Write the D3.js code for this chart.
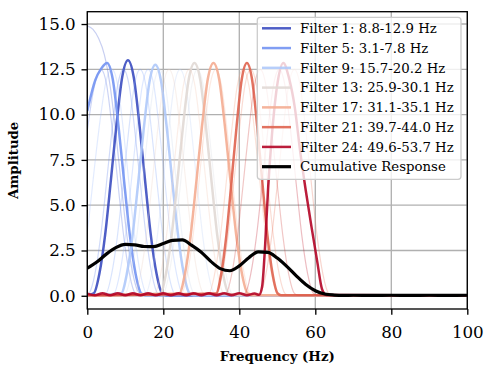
<!DOCTYPE html>
<html><head><meta charset="utf-8">
<script src="https://cdn.jsdelivr.net/npm/d3@7"></script>
<style>body{margin:0;background:#fff} svg{display:block}</style>
</head><body><svg id="c" width="484" height="365"></svg>
<script>
// ---- Data ----
const xTicks = [0, 20, 40, 60, 80, 100];
const yTicks = [0, 2.5, 5, 7.5, 10, 12.5, 15];

// highlighted filters: [freq, amplitude] points
const filter1 = [[0,0.03],[1.7,0.13],[3.2,1.24],[4.7,3.38],[6.2,6.37],[7.7,9.49],[9.2,12.09],[10.7,13.0],[12.2,12.09],[13.7,9.49],[15.2,6.37],[16.7,3.38],[18.2,1.24],[19.7,0.13],[20.7,0.03],[100,0.03]];
const filter5 = [[0,10.2],[2.1,11.9],[3.7,12.55],[5.2,12.85],[6.7,11.95],[8.2,9.38],[9.7,6.3],[11.2,3.34],[12.7,1.22],[14.2,0.13],[15.2,0.03],[100,0.03]];
const filter9 = [[0,0.03],[8.9,0.13],[10.4,1.21],[11.9,3.32],[13.4,6.25],[14.9,9.31],[16.4,11.86],[17.9,12.75],[19.4,11.86],[20.9,9.31],[22.4,6.25],[23.9,3.32],[25.4,1.21],[26.9,0.13],[27.9,0.03],[100,0.03]];
const filter13 = [[0,0.03],[19.2,0.13],[20.7,1.22],[22.2,3.34],[23.7,6.3],[25.2,9.38],[26.7,11.95],[28.2,12.85],[29.7,11.95],[31.2,9.38],[32.7,6.3],[34.2,3.34],[35.7,1.22],[37.2,0.13],[38.2,0.03],[100,0.03]];
const filter17 = [[0,0.03],[24.2,0.13],[25.7,1.22],[27.2,3.34],[28.7,6.3],[30.2,9.38],[31.7,11.95],[33.2,12.85],[34.7,11.95],[36.2,9.38],[37.7,6.3],[39.2,3.34],[40.7,1.22],[42.2,0.13],[43.2,0.03],[100,0.03]];
const filter21 = [[0,0.03],[33.9,0.13],[35.25,1.22],[36.6,3.34],[37.95,6.3],[39.3,9.38],[40.65,11.95],[42.0,12.85],[43.35,11.95],[44.7,9.38],[46.05,6.3],[47.4,3.34],[48.75,1.22],[50.1,0.13],[51.0,0.03],[100,0.03]];
const filter24 = [[0,0.12],[2,0.03],[4,0.14],[6,0.03],[8,0.14],[10,0.03],[12,0.14],[14,0.03],[16,0.14],[18,0.03],[20,0.14],[22,0.03],[24,0.14],[26,0.03],[28,0.14],[30,0.03],[32,0.14],[34,0.03],[36,0.14],[38,0.03],[40,0.14],[42,0.03],[44,0.12],[45.2,0.05],[46.0,0.5],[46.8,2.8],[47.6,6.0],[48.6,8.9],[50.1,11.8],[51.6,12.85],[53.1,12.0],[54.6,10.4],[56.0,8.0],[57.5,5.8],[59.0,3.8],[60.5,1.9],[61.8,0.35],[63,0.04],[100,0.03]];

// faint (unlabelled) filters
const filter2 = [[0,14.9],[1.5,14.7],[3,14.2],[4.5,13.3],[6,11.6],[7.5,9.0],[9,6.0],[10.5,3.2],[12,1.2],[13.5,0.2],[15,0.03],[100,0.03]];
const filter3 = [[0,9.1],[1.5,11.2],[3.6,12.5],[5.1,11.63],[6.6,9.13],[8.1,6.13],[9.6,3.25],[11.1,1.19],[12.6,0.13],[13.6,0.03],[100,0.03]];
const filter4 = [[0,0.03],[0.5,0.13],[2,1.19],[3.5,3.25],[5,6.13],[6.5,9.13],[8,11.63],[9.5,12.5],[11,11.63],[12.5,9.13],[14,6.13],[15.5,3.25],[17,1.19],[18.5,0.13],[19.5,0.03],[100,0.03]];
const filter6 = [[0,0.03],[4.9,0.13],[6.4,1.19],[7.9,3.25],[9.4,6.13],[10.9,9.13],[12.4,11.63],[13.9,12.5],[15.4,11.63],[16.9,9.13],[18.4,6.13],[19.9,3.25],[21.4,1.19],[22.9,0.13],[23.9,0.03],[100,0.03]];
const filter7 = [[0,0.03],[7.0,0.13],[8.5,1.19],[10.0,3.25],[11.5,6.13],[13.0,9.13],[14.5,11.63],[16.0,12.5],[17.5,11.63],[19.0,9.13],[20.5,6.13],[22.0,3.25],[23.5,1.19],[25.0,0.13],[26.0,0.03],[100,0.03]];
const filter8 = [[0,3.5],[0.5,4.4],[2.0,7.3],[3.5,9.9],[5.0,11.9],[6.5,12.5],[8.0,11.63],[9.5,9.13],[11.0,6.13],[12.5,3.25],[14.0,1.19],[15.5,0.13],[16.5,0.03],[100,0.03]];
const filter10 = [[0,0.03],[15.4,0.13],[16.9,1.19],[18.4,3.25],[19.9,6.13],[21.4,9.13],[22.9,11.63],[24.4,12.5],[25.9,11.63],[27.4,9.13],[28.9,6.13],[30.4,3.25],[31.9,1.19],[33.4,0.13],[34.4,0.03],[100,0.03]];
const filter11 = [[0,0.03],[10.0,0.13],[11.5,1.19],[13.0,3.25],[14.5,6.13],[16.0,9.13],[17.5,11.63],[19.0,12.5],[20.5,11.63],[22.0,9.13],[23.5,6.13],[25.0,3.25],[26.5,1.19],[28.0,0.13],[29.0,0.03],[100,0.03]];
const filter12 = [[0,0.03],[20.0,0.13],[21.5,1.19],[23.0,3.25],[24.5,6.13],[26.0,9.13],[27.5,11.63],[29.0,12.5],[30.5,11.63],[32.0,9.13],[33.5,6.13],[35.0,3.25],[36.5,1.19],[38.0,0.13],[39.0,0.03],[100,0.03]];
const filter14 = [[0,0.03],[12.5,0.13],[14.0,1.19],[15.5,3.25],[17.0,6.13],[18.5,9.13],[20.0,11.63],[21.5,12.5],[23.0,11.63],[24.5,9.13],[26.0,6.13],[27.5,3.25],[29.0,1.19],[30.5,0.13],[31.5,0.03],[100,0.03]];
const filter15 = [[0,0.03],[17.8,0.13],[19.3,1.19],[20.8,3.25],[22.3,6.13],[23.8,9.13],[25.3,11.63],[26.8,12.5],[28.3,11.63],[29.8,9.13],[31.3,6.13],[32.8,3.25],[34.3,1.19],[35.8,0.13],[36.8,0.03],[100,0.03]];
const filter16 = [[0,0.03],[24.8,0.13],[26.3,1.19],[27.8,3.25],[29.3,6.13],[30.8,9.13],[32.3,11.63],[33.8,12.5],[35.3,11.63],[36.8,9.13],[38.3,6.13],[39.8,3.25],[41.3,1.19],[42.8,0.13],[43.8,0.03],[100,0.03]];
const filter18 = [[0,0.03],[32.0,0.13],[33.5,1.19],[35.0,3.25],[36.5,6.13],[38.0,9.13],[39.5,11.63],[41.0,12.5],[42.5,11.63],[44.0,9.13],[45.5,6.13],[47.0,3.25],[48.5,1.19],[50.0,0.13],[51.0,0.03],[100,0.03]];
const filter19 = [[0,0.03],[34.0,0.13],[35.5,1.19],[37.0,3.25],[38.5,6.13],[40.0,9.13],[41.5,11.63],[43.0,12.5],[44.5,11.63],[46.0,9.13],[47.5,6.13],[49.0,3.25],[50.5,1.19],[52.0,0.13],[53.0,0.03],[100,0.03]];
const filter20 = [[0,0.03],[45.5,0.13],[47.0,1.19],[48.5,3.25],[50.0,6.13],[51.5,9.13],[53.0,11.63],[54.5,12.5],[56.0,11.63],[57.5,9.13],[59.0,6.13],[60.5,3.25],[62.0,1.19],[63.5,0.13],[64.5,0.03],[100,0.03]];
const filter22 = [[0,0.03],[36.5,0.13],[38.0,1.19],[39.5,3.25],[41.0,6.13],[42.5,9.13],[44.0,11.63],[45.5,12.5],[47.0,11.63],[48.5,9.13],[50.0,6.13],[51.5,3.25],[53.0,1.19],[54.5,0.13],[55.5,0.03],[100,0.03]];
const filter23 = [[0,0.03],[41.5,0.13],[43.0,1.19],[44.5,3.25],[46.0,6.13],[47.5,9.13],[49.0,11.63],[50.5,12.5],[52.0,11.63],[53.5,9.13],[55.0,6.13],[56.5,3.25],[58.0,1.19],[59.5,0.13],[60.5,0.03],[100,0.03]];

const cumFreq = [0,2.5,5,7.5,10,12.5,15,17.5,20,22.5,25,27.5,30,32.5,35,37.5,40,42.5,45,47.5,50,52.5,55,57.5,60,62.5,65,67.5,70,75,80,85,90,95,100];
const cumAmp  = [1.52,1.86,2.3,2.66,2.84,2.81,2.72,2.71,2.88,3.06,3.08,2.78,2.4,1.9,1.5,1.38,1.65,2.1,2.42,2.4,2.08,1.62,1.1,0.62,0.28,0.1,0.04,0.02,0.03,0.02,0.03,0.02,0.03,0.02,0.03];

const filterNums = [1,2,3,4,5,6,7,8,9,10,11,12,13,14,15,16,17,18,19,20,21,22,23,24];
const filterData = {1:filter1,2:filter2,3:filter3,4:filter4,5:filter5,6:filter6,7:filter7,8:filter8,9:filter9,10:filter10,11:filter11,12:filter12,13:filter13,14:filter14,15:filter15,16:filter16,17:filter17,18:filter18,19:filter19,20:filter20,21:filter21,22:filter22,23:filter23,24:filter24};
const highlighted = [1,5,9,13,17,21,24];
const legendLabels = ["Filter 1: 8.8-12.9 Hz","Filter 5: 3.1-7.8 Hz","Filter 9: 15.7-20.2 Hz","Filter 13: 25.9-30.1 Hz","Filter 17: 31.1-35.1 Hz","Filter 21: 39.7-44.0 Hz","Filter 24: 49.6-53.7 Hz","Cumulative Response"];

// coolwarm colormap stops
const coolwarm = ["#3b4cc0","#6282ea","#8db0fe","#b8d0f9","#dddddd","#f5c4ad","#f49a7b","#de604d","#b40426"];
const cmap = d3.piecewise(d3.interpolateRgb, coolwarm);
const colorOf = n => cmap((n-1)/23);

// ---- Layout ----
const FONT = "'DejaVu Serif', serif";
const svg = d3.select("#c");
const L = 87.3, R = 467.3, T = 11.7, B = 309;
const x = d3.scaleLinear().domain([0,100]).range([L,R]);
const y = d3.scaleLinear().domain([-0.73,15.68]).range([B,T]);

svg.append("defs").append("clipPath").attr("id","clip")
  .append("rect").attr("x",L).attr("y",T).attr("width",R-L).attr("height",B-T);

// grid
const grid = svg.append("g");
grid.selectAll(".gx").data(xTicks).enter().append("line")
  .attr("x1",d=>x(d)).attr("x2",d=>x(d)).attr("y1",T).attr("y2",B)
  .attr("stroke","#b0b0b0").attr("stroke-width",1.33);
grid.selectAll(".gy").data(yTicks).enter().append("line")
  .attr("y1",d=>y(d)).attr("y2",d=>y(d)).attr("x1",L).attr("x2",R)
  .attr("stroke","#b0b0b0").attr("stroke-width",1.33);

const line = d3.line().x(d=>x(d[0])).y(d=>y(d[1])).curve(d3.curveMonotoneX);
const plot = svg.append("g").attr("clip-path","url(#clip)");

filterNums.forEach(n => {
  const hi = highlighted.includes(n);
  plot.append("path").datum(filterData[n]).attr("d",line)
    .attr("fill","none").attr("stroke",colorOf(n))
    .attr("stroke-width", hi ? 2.5 : 1.2)
    .attr("stroke-opacity", hi ? 0.9 : 0.3)
    .attr("stroke-linejoin","round");
});
plot.append("path").datum(cumFreq.map((f,i)=>[f,cumAmp[i]])).attr("d",line)
  .attr("fill","none").attr("stroke","#000").attr("stroke-width",3.2).attr("stroke-linejoin","round");

// axes
const xAxis = svg.append("g").attr("transform",`translate(0,${B})`)
  .call(d3.axisBottom(x).tickValues(xTicks).tickFormat(d3.format("d")).tickSize(5.8).tickPadding(5.8));
const yAxis = svg.append("g").attr("transform",`translate(${L},0)`)
  .call(d3.axisLeft(y).tickValues(yTicks).tickFormat(d3.format(".1f")).tickSize(5.8).tickPadding(5.8));
[xAxis,yAxis].forEach(a=>{
  a.select(".domain").remove();
  a.selectAll("line").attr("stroke","#000").attr("stroke-width",1.33);
  a.selectAll("text").attr("font-size","16.7px").attr("fill","#000").attr("font-family",FONT);
});
xAxis.selectAll("text").attr("dy",null).attr("y",28.5);
svg.append("rect").attr("x",L).attr("y",T).attr("width",R-L).attr("height",B-T)
  .attr("fill","none").attr("stroke","#000").attr("stroke-width",1.33);

svg.append("text").attr("x",(L+R)/2).attr("y",360.5).attr("text-anchor","middle")
  .attr("font-family",FONT).attr("font-size","13.3px").attr("font-weight","bold").text("Frequency (Hz)");
svg.append("text").attr("transform",`translate(18,${(T+B)/2}) rotate(-90)`).attr("text-anchor","middle")
  .attr("font-family",FONT).attr("font-size","13.3px").attr("font-weight","bold").text("Amplitude");

// legend
const lg = svg.append("g");
lg.append("rect").attr("x",257.3).attr("y",17.3).attr("width",203.7).attr("height",162).attr("rx",3)
  .attr("fill","#fff").attr("fill-opacity",0.8).attr("stroke","#cccccc").attr("stroke-width",1.3);
const legendColors = highlighted.map(colorOf).concat(["#000"]);
legendLabels.forEach((lab,i)=>{
  const yy = 28.3 + i*19.77;
  lg.append("line").attr("x1",262).attr("x2",291).attr("y1",yy).attr("y2",yy)
    .attr("stroke",legendColors[i]).attr("stroke-width", i===7 ? 3.2 : 2.5)
    .attr("stroke-opacity", i===7 ? 1 : 0.9);
  lg.append("text").attr("x",300).attr("y",yy).attr("dy","0.36em")
    .attr("font-family",FONT).attr("font-size","13.3px").attr("fill","#000").text(lab);
});
</script></body></html>
